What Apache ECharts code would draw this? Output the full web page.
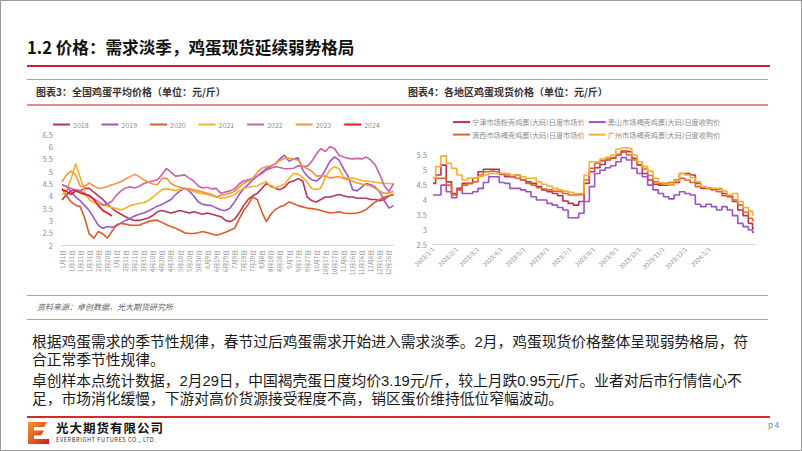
<!DOCTYPE html>
<html><head><meta charset="utf-8">
<script src="https://cdn.jsdelivr.net/npm/echarts@6/dist/echarts.min.js"></script>
<style>
html,body{margin:0;padding:0;background:#fff;}
#page{position:relative;width:802px;height:451px;overflow:hidden;font-family:"Noto Sans CJK SC","Noto Sans",sans-serif;background:#fff;}
#chart{position:absolute;left:0;top:0;width:802px;height:451px;}
.t{position:absolute;white-space:nowrap;line-height:1;}
.p{position:absolute;white-space:nowrap;font-family:"Liberation Sans","Noto Sans CJK SC",sans-serif;font-size:14.75px;line-height:18.5px;color:#1a1a1a;}
.hl{position:absolute;}
</style></head><body>
<div id="page">
<div id="chart"></div>
<div class="t" style="left:27px;top:39px;font-size:16.6px;font-weight:700;color:#111;">1.2 价格：需求淡季，鸡蛋现货延续弱势格局</div>
<div class="hl" style="left:27px;top:65px;width:743px;height:2px;background:#c8232c;"></div>
<div class="hl" style="left:27px;top:78.5px;width:741px;height:1.5px;background:#e68a92;"></div>
<div class="hl" style="left:27px;top:104px;width:741px;height:1.5px;background:#e68a92;"></div>
<div class="t" style="left:36px;top:86.5px;font-size:10px;font-weight:700;color:#333;">图表3：全国鸡蛋平均价格（单位：元/斤）</div>
<div class="t" style="left:408px;top:86.5px;font-size:10px;font-weight:700;color:#333;">图表4：各地区鸡蛋现货价格（单位：元/斤）</div>
<div class="hl" style="left:27px;top:294.5px;width:741px;height:1.5px;background:#e68a92;"></div>
<div class="t" style="left:37px;top:303px;font-size:8px;font-style:italic;color:#666;">资料来源：卓创数据，光大期货研究所</div>
<div class="hl" style="left:27px;top:318.5px;width:741px;height:1.5px;background:#e68a92;"></div>
<div class="p" style="left:32px;top:332.5px;">根据鸡蛋需求的季节性规律，春节过后鸡蛋需求开始进入需求淡季。2月，鸡蛋现货价格整体呈现弱势格局，符<br>合正常季节性规律。</div>
<div class="p" style="left:32px;top:371.5px;">卓创样本点统计数据，2月29日，中国褐壳蛋日度均价3.19元/斤，较上月跌0.95元/斤。业者对后市行情信心不<br>足，市场消化缓慢，下游对高价货源接受程度不高，销区蛋价维持低位窄幅波动。</div>
<div class="hl" style="left:27px;top:416px;width:743px;height:2px;background:#d42a2a;"></div>
<svg style="position:absolute;left:28px;top:422px" width="21" height="22">
<defs><linearGradient id="lg" x1="0" y1="0" x2="1" y2="1"><stop offset="0" stop-color="#f29a2e"/><stop offset="1" stop-color="#d7191c"/></linearGradient></defs>
<path d="M0 0 H19 L16 5 H6 V8.5 H16 L13 13.5 H6 V17 H21 V22 H0 Z" fill="url(#lg)"/>
</svg>
<div class="t" style="left:56px;top:421.5px;font-size:12.5px;font-weight:700;color:#111;letter-spacing:1px;">光大期货有限公司</div>
<div class="t" style="left:56px;top:437.5px;font-size:5.6px;color:#333;letter-spacing:0.6px;">EVERBRIGHT FUTURES CO., LTD.</div>
<div class="t" style="left:768px;top:421px;font-size:8px;color:#777;">p 4</div>
<div style="position:absolute;left:0;top:0;width:800px;height:449px;border:1px solid #9a9a9a;pointer-events:none;"></div>
</div>
<script>
// ---------- Left chart: national average egg price by year ----------
const dayLabels = ['1月1日','1月6日','1月11日','1月16日','1月21日','1月26日','1月31日','2月5日','2月10日','2月15日','2月20日','2月25日','3月1日','3月6日','3月11日','3月16日','3月21日','3月26日','3月31日','4月5日','4月10日','4月15日','4月20日','4月25日','4月30日','5月5日','5月10日','5月15日','5月20日','5月25日','5月30日','6月4日','6月9日','6月14日','6月19日','6月24日','6月29日','7月4日','7月9日','7月14日','7月19日','7月24日','7月29日','8月3日','8月8日','8月13日','8月18日','8月23日','8月28日','9月2日','9月7日','9月12日','9月17日','9月22日','9月27日','10月2日','10月7日','10月12日','10月17日','10月22日','10月27日','11月1日','11月6日','11月11日','11月16日','11月21日','11月26日','12月1日','12月6日','12月11日','12月16日','12月21日','12月26日','12月31日'];
const yearNames = ['2018','2019','2020','2021','2022','2023','2024'];
const y2018 = [3.83,4.05,4.2,4.25,4.2,4.3,4.3,4.15,4.0,3.85, 3.65,3.5,3.35,3.25,3.15,3.05,3.0,3.0,3.05,3.1, 3.2,3.35,3.4,3.35,3.3,3.35,3.4,3.35,3.3,3.35, 3.3,3.25,3.3,3.25,3.2,3.15,3.0,2.95,3.05,3.3, 3.6,3.85,4.0,4.1,4.3,4.5,4.4,4.3,4.25,4.35, 4.55,4.6,4.7,4.6,3.95,3.8,3.75,3.85,3.95,3.95, 4.0,4.05,4.0,3.95,3.95,3.9,3.9,3.9,3.85,3.85, 3.8,3.85,4.0,4.05];
const y2019 = [4.44,4.38,4.15,3.95,3.8,3.6,3.4,3.1,2.8,2.68, 2.75,2.72,2.78,2.9,3.0,3.08,3.18,3.25,3.3,3.38, 3.48,3.58,3.65,3.75,3.85,4.05,4.2,4.3,4.2,4.0, 3.75,3.65,3.62,3.6,3.5,3.42,3.4,3.5,3.75,4.05, 4.3,4.45,4.65,4.8,4.95,5.1,5.2,5.3,5.5,5.65, 5.4,5.5,5.55,5.05,4.8,4.65,4.6,4.75,5.05,5.4, 5.58,5.45,5.1,4.8,4.25,4.2,4.35,4.5,4.45,4.35, 4.15,3.8,3.5,3.6];
const y2020 = [4.3,4.0,3.75,3.62,3.56,3.1,2.45,2.28,2.55,2.45, 2.28,2.55,2.82,2.88,2.85,2.8,2.8,2.8,2.88,2.95, 3.0,3.0,2.92,2.82,2.75,2.68,2.6,2.5,2.47,2.47, 2.5,2.55,2.5,2.45,2.4,2.45,2.52,2.6,2.68,3.05, 3.4,3.65,3.95,3.85,3.35,2.95,3.25,3.45,3.55,3.62, 3.75,3.68,3.6,3.55,3.5,3.48,3.45,3.4,3.35,3.3, 3.32,3.35,3.3,3.28,3.28,3.3,3.35,3.45,3.6,3.75, 3.85,3.95,4.0,4.05];
const y2021 = [4.05,4.2,4.7,5.3,4.75,4.15,3.85,3.72,3.65,3.62, 3.58,3.52,3.48,3.42,3.5,3.6,3.65,3.7,3.72,3.8, 3.95,4.1,4.25,4.28,4.25,4.22,4.28,4.3,4.25,4.18, 4.12,4.08,4.05,4.0,3.95,3.9,3.92,3.98,4.05,4.2, 4.3,4.35,4.38,4.4,4.5,4.58,4.35,4.32,4.4,4.48, 4.7,4.92,4.88,4.75,4.55,4.3,4.25,4.32,4.75,5.05, 5.18,5.1,4.75,4.7,4.72,4.68,4.62,4.6,4.58,4.55, 4.52,4.5,4.5,4.48];
const y2022 = [4.45,4.38,4.3,4.25,4.2,4.1,3.98,3.88,3.75,3.63, 3.68,3.78,4.03,4.2,4.32,4.37,4.32,4.38,4.5,4.55, 4.6,4.65,4.85,5.12,4.95,4.8,4.82,4.85,4.72,4.6, 4.4,4.32,4.35,4.28,4.3,4.1,4.15,4.2,4.28,4.48, 4.6,4.65,4.7,4.8,4.9,5.05,5.12,5.18,5.15,5.1, 5.1,5.12,5.22,5.2,5.2,5.4,5.7,5.92,5.8,6.0, 5.92,5.65,5.58,5.52,5.5,5.52,5.5,5.58,5.45,5.25, 4.85,4.4,4.17,4.5];
const y2023 = [4.57,4.85,5.0,4.85,4.4,4.38,4.52,4.4,4.3,4.32, 4.38,4.45,4.5,4.58,4.68,4.78,4.87,4.78,4.65,4.55, 4.48,4.45,4.7,4.72,4.5,4.4,4.35,4.3,4.28,4.25, 4.2,4.15,4.1,4.05,3.95,4.02,4.05,4.1,4.18,4.35, 4.5,4.6,4.7,4.95,5.12,5.18,5.22,5.3,5.45,5.52, 5.52,5.5,5.45,5.2,5.1,5.0,4.8,4.82,4.8,4.72, 4.75,4.78,4.7,4.65,4.6,4.52,4.48,4.45,4.4,4.3, 4.17,4.1,4.12,4.17];
const y2024 = [4.25,4.18,4.05,4.2,4.12,4.05,4.02,3.85,3.6,3.4,3.3,3.18];
const yearData = [y2018,y2019,y2020,y2021,y2022,y2023,y2024];
const yearColors = ['#b8325e','#9a57cc','#e0592a','#f5b225','#cc60ac','#f39341','#e8161b'];

// ---------- Right chart: regional spot prices ----------
const rDates = ['2023-01-01','2023-01-08','2023-01-15','2023-01-22','2023-01-29','2023-02-05','2023-02-12','2023-02-19','2023-02-26','2023-03-05','2023-03-12','2023-03-19','2023-03-26','2023-04-02','2023-04-09','2023-04-16','2023-04-23','2023-04-30','2023-05-07','2023-05-14','2023-05-21','2023-05-28','2023-06-04','2023-06-11','2023-06-18','2023-06-25','2023-07-02','2023-07-09','2023-07-16','2023-07-23','2023-07-30','2023-08-06','2023-08-13','2023-08-20','2023-08-27','2023-09-03','2023-09-10','2023-09-17','2023-09-24','2023-10-01','2023-10-08','2023-10-15','2023-10-22','2023-10-29','2023-11-05','2023-11-12','2023-11-19','2023-11-26','2023-12-03','2023-12-10','2023-12-17','2023-12-24','2023-12-31','2024-01-07','2024-01-14','2024-01-21','2024-01-28','2024-02-04','2024-02-11','2024-02-18','2024-02-25','2024-02-29'];
const rMonthLabels = ['2023/1/1','2023/2/1','2023/3/1','2023/4/1','2023/5/1','2023/6/1','2023/7/1','2023/8/1','2023/9/1','2023/10/1','2023/11/1','2023/12/1','2024/1/1','2024/2/1'];
const rNames = ['宁津市场粉壳鸡蛋(大码)日度市场价','黑山市场褐壳鸡蛋(大码)日度收购价','滴西市场褐壳鸡蛋(大码)日度市场价','广州市场褐壳鸡蛋(大码)日度收购价'];
const ningjin = [4.53,4.81,5.14,4.58,4.19,4.36,4.53,4.53,4.70,4.92, 5.0,5.0,5.0,4.83,4.75,4.75,4.81,4.64,4.58,4.53, 4.42,4.31,4.25,4.19,4.12,3.94,3.86,3.80,3.92,4.53, 4.92, 5.05,5.16,5.31,5.37,5.48,5.61,5.59,5.37,5.14,4.86, 4.64,4.50,4.47,4.47,4.47,4.56,4.86,4.86,4.81,4.53, 4.36,4.36,4.34,4.34,4.19,4.08,3.92,3.64,3.45,3.19, 3.02];
const heishan = [4.14,4.14,4.47,4.25,4.05,4.31,4.19,4.19,4.25,4.36, 4.56,4.75,4.75,4.56,4.53,4.36,4.36,4.31,4.25,4.08, 3.97,3.97,3.86,3.80,3.72,3.64,3.38,3.38,3.53,3.92, 4.42, 4.86,4.97,5.05,5.12,5.25,5.39,5.31,5.03,4.86,4.75, 4.47,4.31,4.19,4.08,4.01,4.14,4.25,4.19,4.14,3.83, 3.75,3.83,3.75,3.64,3.75,3.64,3.45,3.19,3.08,2.97, 2.89];
const xixi = [4.70,4.70,4.70,4.47,4.14,4.31,4.47,4.53,4.58,4.81, 4.92,4.94,4.92,4.86,4.81,4.75,4.70,4.64,4.53,4.47, 4.38,4.34,4.31,4.27,4.25,4.19,4.14,4.14,4.16,4.64, 5.03, 5.20,5.28,5.34,5.39,5.50,5.57,5.48,5.31,5.16,5.01, 4.79,4.58,4.53,4.53,4.56,4.64,4.70,4.64,4.56,4.42, 4.41,4.36,4.31,4.25,4.12,4.12,3.97,3.80,3.56,3.36, 3.28];
const guangzhou = [4.70,5.09,5.45,5.2,5.03,4.81,4.64,4.70,4.70,4.75, 4.81,4.86,4.86,4.86,4.86,4.81,4.81,4.75,4.70,4.70, 4.58,4.50,4.44,4.36,4.31,4.27,4.23,4.19,4.19,4.81, 5.25, 5.25,5.34,5.40,5.48,5.68,5.72,5.70,5.48,5.25,5.09, 4.94,4.70,4.56,4.50,4.47,4.61,4.86,4.81,4.72,4.58, 4.42,4.38,4.36,4.36,4.27,4.14,4.19,3.92,3.72,3.60, 3.47];
const rData = [ningjin,heishan,xixi,guangzhou];
const rColors = ['#b8324f','#9b51c8','#e2622f','#f6b02a'];

function ts(s){ const p=s.split(/[-\/]/).map(Number); return new Date(p[0],p[1]-1,p[2]).getTime(); }
function fmtDate(v){ const d=new Date(v); return d.getFullYear()+'/'+(d.getMonth()+1)+'/'+d.getDate(); }

const grey = '#8c8c8c';
const series = [];
yearNames.forEach((n,i)=>{
  series.push({name:n,type:'line',xAxisIndex:0,yAxisIndex:0,data:yearData[i],symbol:'none',
    lineStyle:{width:1.6,color:yearColors[i]},itemStyle:{color:yearColors[i]},z:2+i});
});
rNames.forEach((n,i)=>{
  series.push({name:n,type:'line',xAxisIndex:1,yAxisIndex:1,step:'middle',
    data:rDates.map((d,k)=>[ts(d),rData[i][k]]),symbol:'none',
    lineStyle:{width:1.6,color:rColors[i]},itemStyle:{color:rColors[i]}});
});

const legendBase = {icon:'rect',itemWidth:17,itemHeight:2,padding:0};
const monthTicks = rMonthLabels.map(ts);
const chart = echarts.init(document.getElementById('chart'), null, {renderer:'svg',width:802,height:451});
chart.setOption({
  animation:false,
  backgroundColor:'transparent',
  textStyle:{fontFamily:'"Noto Sans CJK SC","Noto Sans",sans-serif'},
  legend:[
    Object.assign({data:yearNames,left:53,top:121,itemGap:13,
     textStyle:{color:grey,fontSize:7,padding:[0,0,0,-2]}},legendBase),
    Object.assign({data:[rNames[0],rNames[1]],left:453,top:118.5,itemGap:4,
     textStyle:{color:grey,fontSize:7.2,padding:[0,0,0,-3]}},legendBase),
    Object.assign({data:[rNames[2],rNames[3]],left:453,top:131,itemGap:4,
     textStyle:{color:grey,fontSize:7.2,padding:[0,0,0,-3]}},legendBase)
  ],
  grid:[
    {left:62,top:134.3,width:331.5,height:110.7,containLabel:false},
    {left:433,top:139.4,width:323.3,height:104.6,containLabel:false}
  ],
  xAxis:[
    {type:'category',gridIndex:0,data:dayLabels,boundaryGap:false,
     axisLine:{lineStyle:{color:'#d9d9d9',width:1}},axisTick:{show:false},
     axisLabel:{interval:1,rotate:90,fontSize:6,color:grey,margin:5}},
    {type:'value',gridIndex:1,min:ts('2023-01-01'),max:ts('2024-03-03'),
     axisLine:{lineStyle:{color:'#d9d9d9',width:1}},axisTick:{show:false},splitLine:{show:false},
     axisLabel:{rotate:45,fontSize:6,color:grey,margin:4,showMinLabel:true,showMaxLabel:false,
       customValues:monthTicks,formatter:v=>fmtDate(v)}}
  ],
  yAxis:[
    {type:'value',gridIndex:0,min:2,max:6.5,interval:0.5,
     axisLine:{show:false},axisTick:{show:false},splitLine:{show:false},
     axisLabel:{fontSize:7.5,color:grey,margin:9}},
    {type:'value',gridIndex:1,min:2.5,max:6,interval:0.5,
     axisLine:{show:false},axisTick:{show:false},splitLine:{show:false},
     axisLabel:{fontSize:7.5,color:grey,margin:6,formatter:v=>v>=6?'':String(v)}}
  ],
  series:series
});
</script>
</body></html>
